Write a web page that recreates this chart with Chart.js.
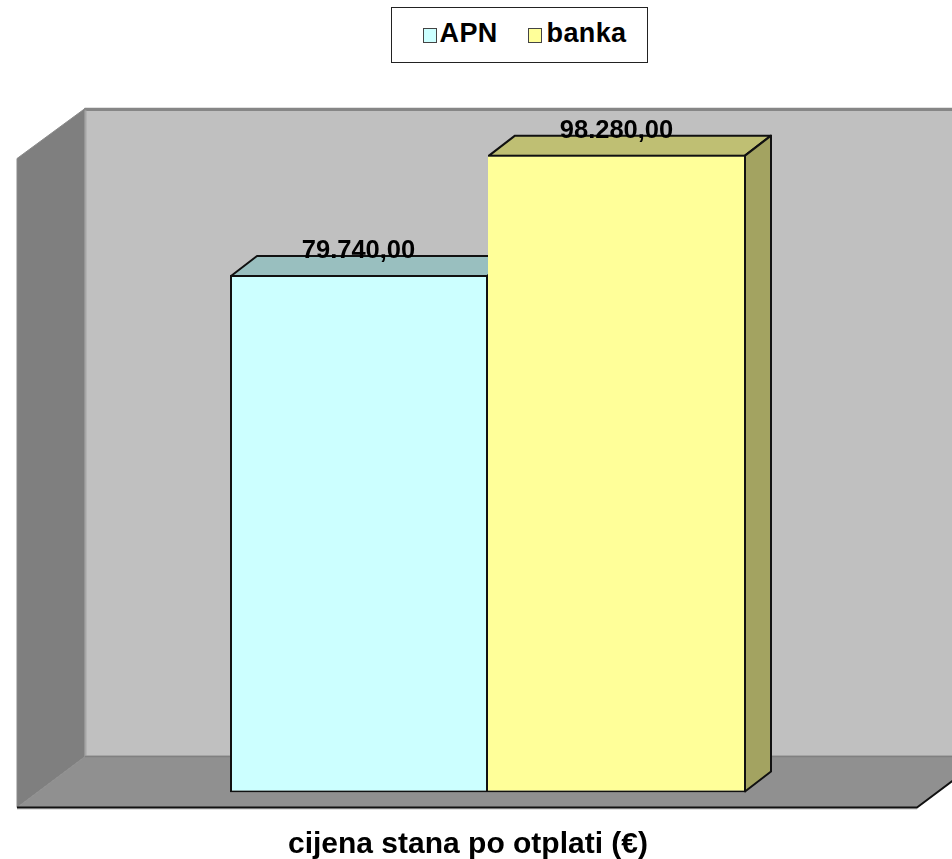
<!DOCTYPE html>
<html>
<head>
<meta charset="utf-8">
<script src="https://cdn.jsdelivr.net/npm/chart.js@4"></script>
<style>
  body { margin: 0; background: #fff; }
  #wrap { position: relative; width: 952px; height: 859px; overflow: hidden; }
  #legend {
    position: absolute; left: 390.5px; top: 6.5px; width: 255px; height: 54px;
    border: 1px solid #222; background: #fff;
    font: bold 27px "Liberation Sans", Arial, sans-serif; color: #000;
  }
  #legend span.box {
    position: absolute; top: 20px; width: 12px; height: 13px;
    border: 1px solid #444;
  }
  #legend span.txt { position: absolute; top: 10px; line-height: 30px; letter-spacing: 0.4px; }
</style>
</head>
<body>
<div id="wrap">
  <canvas id="myChart" width="952" height="859"></canvas>
  <div id="legend"></div>
</div>
<script>
var categories = ['cijena stana po otplati (€)'];
var seriesNames = ['APN', 'banka'];
var apnValues = [79740];
var bankaValues = [98280];
var barColors = ['#ccffff', '#ffff99'];
var topColors = ['#99bfbf', '#bfbf73'];
var sideColors = ['#82a3a3', '#a3a361'];
var valueMax = 100000;

/* 3d depth of the box in px, bars sit part way into it */
var barDepth = { x: 26, y: -20 };
var frontGap = { x: 21, y: 15 };
var backGap = { x: 47, y: 36 };

function formatValue(v) {
    var s = v.toFixed(2).split('.');
    return s[0].replace(/\B(?=(\d{3})+$)/g, '.') + ',' + s[1];
}

function poly(ctx, pts, fill, stroke, lw) {
    ctx.beginPath();
    ctx.moveTo(pts[0][0], pts[0][1]);
    for (var i = 1; i < pts.length; i++) {
        ctx.lineTo(pts[i][0], pts[i][1]);
    }
    ctx.closePath();
    if (fill) {
        ctx.fillStyle = fill;
        ctx.fill();
    }
    if (stroke) {
        ctx.strokeStyle = stroke;
        ctx.lineWidth = lw || 1;
        ctx.stroke();
    }
}

function line(ctx, x0, y0, x1, y1, color, lw) {
    ctx.strokeStyle = color;
    ctx.lineWidth = lw;
    ctx.beginPath();
    ctx.moveTo(x0, y0);
    ctx.lineTo(x1, y1);
    ctx.stroke();
}

/* back wall, left wall, floor and the faces of the bars */
var box3d = {
    id: 'box3d',
    beforeDatasetsDraw: function (chart) {
        var ctx = chart.ctx;
        var a = chart.chartArea;
        var yScale = chart.scales.y;
        var wallTop = yScale.getPixelForValue(valueMax) - backGap.y + 1;
        var backBottom = a.bottom - backGap.y;
        var backLeft = a.left + backGap.x;
        var backRight = a.right + backGap.x;
        var frontLeft = a.left - frontGap.x;
        var frontRight = a.right - frontGap.x;
        var frontBottom = a.bottom + frontGap.y;
        var frontTop = wallTop + backGap.y + frontGap.y - 1;

        ctx.save();
        ctx.lineJoin = 'round';
        poly(ctx, [[backLeft, wallTop], [backRight, wallTop], [backRight, backBottom], [backLeft, backBottom]], '#c0c0c0', '#868686', 1.5);
        line(ctx, backLeft, wallTop + 1, backRight, wallTop + 1, '#868686', 3);
        poly(ctx, [[frontLeft, frontTop], [backLeft, wallTop], [backLeft, backBottom], [frontLeft, frontBottom]], '#7f7f7f', '#8a8a8a', 1);
        line(ctx, backLeft + 0.5, wallTop + 2, backLeft + 0.5, backBottom, '#a6a6a6', 2);
        poly(ctx, [[frontLeft, frontBottom], [backLeft, backBottom], [backRight, backBottom], [frontRight, frontBottom]], '#909090', null);
        line(ctx, backLeft, backBottom, backRight, backBottom, '#808080', 1.5);
        line(ctx, frontLeft, frontBottom + 1.5, frontRight, frontBottom + 1.5, '#c4c4c4', 1);
        ctx.strokeStyle = '#111';
        ctx.lineWidth = 2;
        ctx.beginPath();
        ctx.moveTo(frontLeft, frontBottom);
        ctx.lineTo(frontRight, frontBottom);
        ctx.lineTo(backRight, backBottom);
        ctx.stroke();

        [0, 1].forEach(function (i) {
            var bar = chart.getDatasetMeta(i).data[0];
            var left = bar.x - bar.width / 2 + 1;
            var right = bar.x + bar.width / 2 - 1;
            var top = bar.y + 1;
            var bottom = bar.base - 1;
            poly(ctx, [[left, top], [left + barDepth.x, top + barDepth.y], [right + barDepth.x, top + barDepth.y], [right, top]], topColors[i], '#111', 2);
            if (i === 1) {
                poly(ctx, [[right, top], [right + barDepth.x, top + barDepth.y], [right + barDepth.x, bottom + barDepth.y], [right, bottom]], sideColors[i], '#111', 2);
            }
        });
        ctx.restore();
    },
    afterDatasetsDraw: function (chart) {
        var ctx = chart.ctx;
        ctx.save();
        ctx.font = 'bold 25.5px "Liberation Sans", Arial, sans-serif';
        ctx.fillStyle = '#000';
        ctx.textAlign = 'center';
        ctx.textBaseline = 'alphabetic';
        chart.data.datasets.forEach(function (ds, i) {
            var bar = chart.getDatasetMeta(i).data[0];
            ctx.fillText(formatValue(ds.data[0]), bar.x - 0.5, bar.y - 17);
        });
        ctx.restore();
    }
};

new Chart(document.getElementById('myChart'), {
    type: 'bar',
    data: {
        labels: categories,
        datasets: [
            {
                label: seriesNames[0], data: apnValues, backgroundColor: barColors[0], borderColor: '#111',
                borderWidth: 2, borderSkipped: false
            },
            {
                label: seriesNames[1], data: bankaValues, backgroundColor: barColors[1], borderColor: '#111',
                borderWidth: { top: 2, right: 2, bottom: 2, left: 0 }, borderSkipped: false
            }
        ]
    },
    options: {
        responsive: false,
        animation: false,
        layout: { padding: { left: 38, right: 14, top: 143.5, bottom: 0 } },
        plugins: { legend: { display: false }, tooltip: { enabled: false } },
        datasets: { bar: { categoryPercentage: 516 / 900, barPercentage: 1 } },
        scales: {
            y: { display: false, min: 0, max: valueMax },
            x: {
                afterFit: function (scale) { scale.height = 66.5; },
                border: { display: false },
                grid: { display: false, drawTicks: false },
                ticks: {
                    color: '#000',
                    maxRotation: 0,
                    autoSkip: false,
                    padding: 34,
                    labelOffset: -20,
                    font: { family: '"Liberation Sans", Arial, sans-serif', size: 30, weight: 'bold' }
                }
            }
        }
    },
    plugins: [box3d]
});

/* legend box is html, chart.js legend has a fixed gap and no frame */
var legendHtml = '';
var boxLeft = [31, 136];
var txtLeft = [48, 155];
for (var i = 0; i < seriesNames.length; i++) {
    legendHtml += '<span class="box" style="left:' + boxLeft[i] + 'px;background:' + barColors[i] + '"></span>' +
                  '<span class="txt" style="left:' + txtLeft[i] + 'px">' + seriesNames[i] + '</span>';
}
document.getElementById('legend').innerHTML = legendHtml;
</script>
</body>
</html>
